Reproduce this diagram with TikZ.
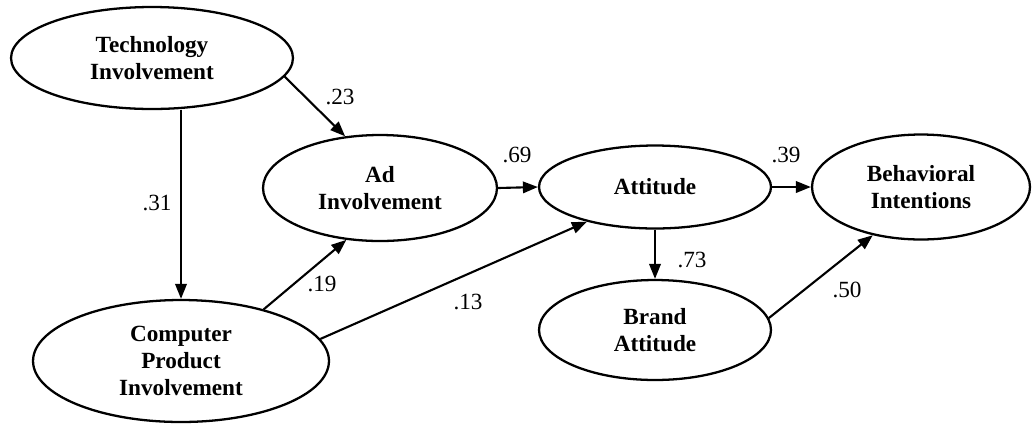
\documentclass[tikz,border=0pt]{standalone}
\usepackage{fontspec}
\setmainfont{Liberation Serif}
\usetikzlibrary{arrows.meta,shapes.geometric}

\begin{document}
\begin{tikzpicture}[x=0.02cm,y=-0.02cm,
  latent/.style={ellipse,draw,line width=1.3pt,inner sep=0pt,align=center,
    font=\fontsize{13.2}{15.5}\selectfont\bfseries},
  effect/.style={line width=1.2pt,-{Triangle[length=0.3cm,width=0.23cm]}},
  coef/.style={inner sep=0pt,font=\fontsize{13.2}{15.5}\selectfont}]
\useasboundingbox (0,0) rectangle (1034,424);

% latent variables
\node[latent,minimum width=5.64cm,minimum height=2.04cm] (tech) at (152,58) {Technology\\Involvement};
\node[latent,minimum width=4.68cm,minimum height=2.12cm] (ad) at (380,188) {Ad\\Involvement};
\node[latent,minimum width=4.64cm,minimum height=1.66cm] (att) at (655,187) {Attitude};
\node[latent,minimum width=4.36cm,minimum height=2.1cm] (beh) at (921,187) {Behavioral\\Intentions};
\node[latent,minimum width=4.64cm,minimum height=2cm] (brand) at (655,330) {Brand\\Attitude};
\node[latent,minimum width=5.92cm,minimum height=2.44cm] (cpi) at (181,361) {Computer\\Product\\Involvement};

% paths
\draw[effect] (tech.-8) -- (ad.124);
\draw[effect] (tech.south -| cpi.north) -- (cpi.north);
\draw[effect] (cpi.32) -- (ad.237);
\draw[effect] (cpi.9) -- (att.207);
\draw[effect] (ad.east) -- (att.west);
\draw[effect] (att.east) -- (beh.west);
\draw[effect] (att.south) -- (brand.north);
\draw[effect] (brand.6) -- (beh.225);

% coefficients
\node[coef] (c23) at (340,97) {.23};
\node[coef] (c31) at (157,203) {.31};
\node[coef] (c19) at (322,284) {.19};
\node[coef] (c13) at (468,302) {.13};
\node[coef] (c69) at (517,155) {.69};
\node[coef] (c39) at (786,155) {.39};
\node[coef] (c73) at (692,260) {.73};
\node[coef] (c50) at (847,290) {.50};
\end{tikzpicture}
\end{document}
